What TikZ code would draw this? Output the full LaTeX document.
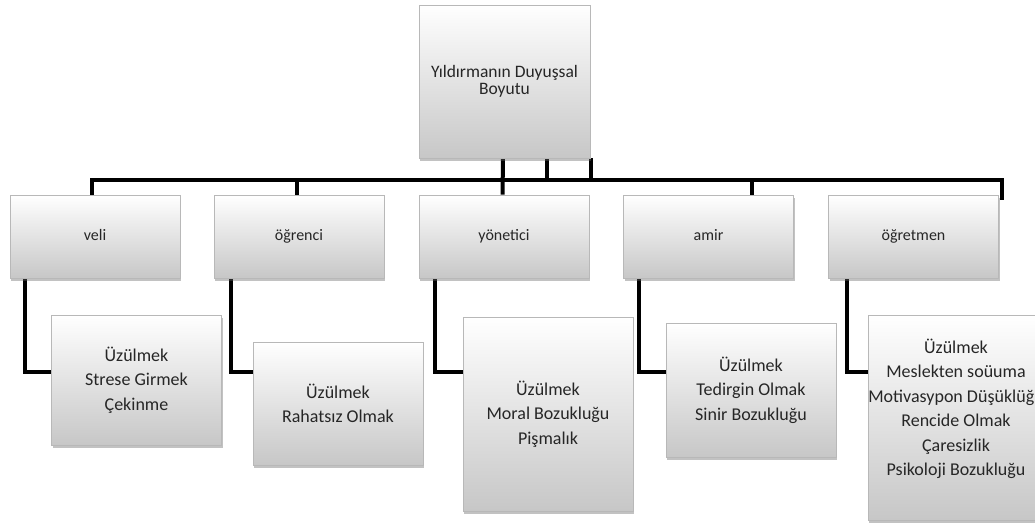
\documentclass[tikz,border=0pt]{standalone}
\usepackage{fontspec}
\setmainfont{Carlito}
\usetikzlibrary{shadows,calc}
\pgfdeclarelayer{background}
\pgfsetlayers{background,main}
\tikzset{
  box/.style={draw=black!28, line width=0.6pt, top color=white, bottom color=black!22,
    text=black!85, align=center, inner sep=0pt, anchor=center,
    drop shadow={shadow xshift=1pt, shadow yshift=-3pt, opacity=0.4, fill=black!60}},
  topbox/.style={box, minimum width=171pt, minimum height=153pt, font=\fontsize{17.5}{17}\selectfont},
  lvone/.style={box, minimum width=170pt, minimum height=83pt, text height=12pt, text depth=4pt, font=\fontsize{16}{20}\selectfont},
  lvtwo/.style={box, minimum width=170pt, font=\fontsize{18}{24.5}\selectfont},
  conn/.style={draw=black, line width=4pt, line join=miter}
}
\begin{document}
\begin{tikzpicture}[x=1pt, y=-1pt]
\useasboundingbox (0,0) rectangle (1035,528);
\clip (0,0) rectangle (1035,528);
% top
\node[topbox] (top) at (504.5,81.5) {Yıldırmanın Duyuşsal\\Boyutu};
% level 1
\node[lvone] (veli) at (95,236.5) {veli};
\node[lvone] (ogr) at (299,236.5) {öğrenci};
\node[lvone] (yon) at (504,236.5) {yönetici};
\node[lvone] (amir) at (708.5,236.5) {amir};
\node[lvone] (ogt) at (913.5,236.5) {öğretmen};
% level 2
\node[lvtwo, minimum height=130pt] (vc) at (136.5,380) {Üzülmek\\Strese Girmek\\Çekinme};
\node[lvtwo, minimum height=123pt] (oc) at (338,403.5) {Üzülmek\\Rahatsız Olmak};
\node[lvtwo, minimum height=194pt] (yc) at (548,414) {Üzülmek\\Moral Bozukluğu\\Pişmalık};
\node[lvtwo, minimum height=134pt] (ac) at (751,390) {Üzülmek\\Tedirgin Olmak\\Sinir Bozukluğu};
\node[lvtwo, minimum height=205pt, text depth=20pt] (tc) at (956,417.5) {Üzülmek\\Meslekten soüuma\\Motivasypon Düşüklüğü\\Rencide Olmak\\Çaresizlik\\Psikoloji Bozukluğu};
% helper coordinates
\coordinate (bus) at (0,180);
\coordinate (elb) at (0,372);
\begin{pgfonlayer}{background}
% bus and drops
\draw[conn] ([xshift=-3pt]veli.north) -- ([xshift=-3pt]veli.north |- bus)
  -- ([xshift=3pt]ogt.north east |- bus) -- ([xshift=3pt,yshift=-5pt]ogt.north east);
\draw[conn] ([xshift=-2pt]ogr.north) -- ([xshift=-2pt]ogr.north |- bus);
\draw[conn] ([xshift=43.5pt]amir.north) -- ([xshift=43.5pt]amir.north |- bus);
% stubs from top
\draw[conn] ([xshift=-1.5pt]top.south) -- ([xshift=-1.5pt]yon.north);
\draw[conn] ([xshift=42.5pt]top.south) -- ([xshift=42.5pt]top.south |- bus);
\draw[conn] ([xshift=86.5pt]top.south) -- ([xshift=86.5pt]top.south |- bus);
% elbows to children
\draw[conn] ([xshift=15pt]veli.south west) |- (vc.west |- elb);
\draw[conn] ([xshift=17pt]ogr.south west) |- (oc.west |- elb);
\draw[conn] ([xshift=16pt]yon.south west) |- (yc.west |- elb);
\draw[conn] ([xshift=16pt]amir.south west) |- (ac.west |- elb);
\draw[conn] ([xshift=19pt]ogt.south west) |- (tc.west |- elb);
\end{pgfonlayer}
\end{tikzpicture}
\end{document}
